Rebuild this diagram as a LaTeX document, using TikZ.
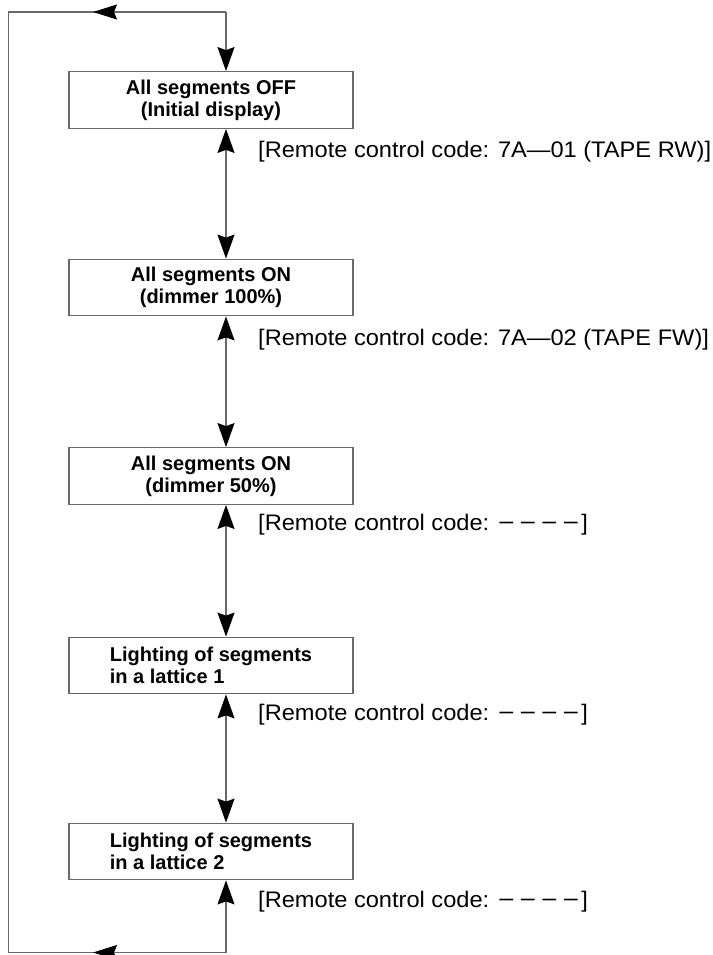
\documentclass[tikz,border=0pt]{standalone}
\usepackage{fontspec}
\setmainfont{Liberation Sans}
\newfontfamily\lblfont{Liberation Sans}[FakeStretch=1.05]
\newfontfamily\boxfont{Liberation Sans}[FakeStretch=1.0]
\usetikzlibrary{arrows.meta,decorations.markings}
\definecolor{ln}{RGB}{105,105,105}
\newcommand{\dsh}{\scalebox{1.2}[1]{−}}
\newcommand{\dshs}{\dsh\kern5pt\dsh\kern5pt\dsh\kern5pt\dsh\kern2pt}
\tikzset{
  box/.style={draw=ln, line width=1.3pt, minimum width=284pt, minimum height=56.5pt, inner sep=0pt,
    font=\boxfont\bfseries\fontsize{20}{22}\selectfont},
  lbl/.style={anchor=west, inner sep=0pt, font=\lblfont\fontsize{22.5}{24}\selectfont},
  conn/.style={draw=ln, line width=1.3pt},
  tipv/.tip={Stealth[length=24pt,width=17pt,inset=3pt,color=black]},
  upd/.style={conn, tipv-tipv},
  toarr/.style={conn, -tipv},
  midleft/.style={conn, postaction={decorate}, decoration={markings,
    mark=at position 133pt with {\arrow{Stealth[length=24pt,width=15pt,inset=3pt,color=black]}}}}
}
\begin{document}
\begin{tikzpicture}[x=1pt,y=-1pt]
\useasboundingbox (0,0) rectangle (712,955);
\node[box, align=center] (b1) at (211,100) {All segments OFF\\(Initial display)};
\node[box, align=center] (b2) at (211,287.5) {All segments ON\\(dimmer 100\%)};
\node[box, align=center] (b3) at (211,476) {All segments ON\\(dimmer 50\%)};
\node[box, align=left] (b4) at (211,665.5) {Lighting of segments\\in a lattice 1};
\node[box, align=left] (b5) at (211,851.5) {Lighting of segments\\in a lattice 2};

\node[lbl] (l1) at (258,152) {[Remote control code: 7A—01 (TAPE RW)]};
\node[lbl] (l2) at (258,340) {[Remote control code: 7A—02 (TAPE FW)]};
\node[lbl] (l3) at (258,525) {[Remote control code: \dshs]};
\node[lbl] (l4) at (258,715) {[Remote control code: \dshs]};
\node[lbl] (l5) at (258,902) {[Remote control code: \dshs]};

\coordinate (tr) at (226,12);
\coordinate (tl) at (8.5,12);
\coordinate (bl) at (8.5,952.5);
\coordinate (br) at (226,952.5);

\draw[upd] (b1.south -| tr) -- (b2.north -| tr);
\draw[upd] (b2.south -| tr) -- (b3.north -| tr);
\draw[upd] (b3.south -| tr) -- (b4.north -| tr);
\draw[upd] (b4.south -| tr) -- (b5.north -| tr);

\draw[toarr] (tr) -- (b1.north -| tr);
\draw[toarr] (br) -- (b5.south -| br);
\draw[midleft] (tr) -- (tl) -- (bl);
\draw[midleft] (br) -- (bl);
\end{tikzpicture}
\end{document}
